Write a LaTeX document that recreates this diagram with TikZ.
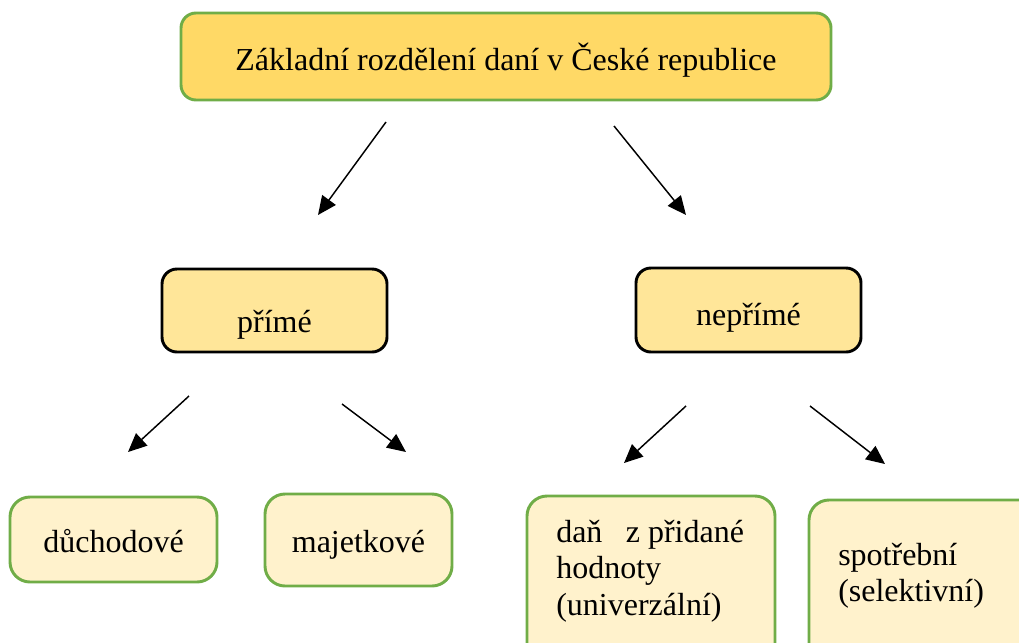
\documentclass[tikz,border=0pt]{standalone}
\usepackage{fontspec}
\setmainfont{Liberation Serif}
\usetikzlibrary{arrows.meta}
\definecolor{topfill}{HTML}{FFD966}
\definecolor{midfill}{HTML}{FFE699}
\definecolor{lowfill}{HTML}{FFF2CC}
\definecolor{grn}{HTML}{70AD47}
\def\pxu{0.75pt}
\tikzset{
  box/.style={draw, rounded corners=15*\pxu, line width=2.2pt, inner sep=0pt,
    text depth=0pt, font=\fontsize{24}{26}\selectfont},
  topbox/.style={box, draw=grn, fill=topfill},
  midbox/.style={box, draw=black, fill=midfill},
  lowbox/.style={box, draw=grn, fill=lowfill, rounded corners=20*\pxu},
  txt/.style={inner sep=0pt, anchor=base west},
  arr/.style={line width=1.1pt, -{Triangle[length=14pt, width=12.5pt]}}
}
\begin{document}
\begin{tikzpicture}[x=0.75pt, y=-0.75pt]
\useasboundingbox (0,0) rectangle (1019,642);
\clip (0,0) rectangle (1019,642);
\fill[white] (0,0) rectangle (1019,642);

\node[topbox, minimum width=650*\pxu, minimum height=87*\pxu, text height=20.25pt] (top) at (506,56.5) {Základní rozdělení daní v České republice};
\node[midbox, minimum width=225*\pxu, minimum height=83*\pxu, text height=32.25pt] (prime) at (274.5,310.5) {přímé};
\node[midbox, minimum width=225*\pxu, minimum height=84*\pxu, text height=22.5pt] (neprime) at (748.5,310) {nepřímé};
\node[lowbox, minimum width=207*\pxu, minimum height=85*\pxu, text height=18.75pt] (duch) at (113.5,539.5) {důchodové};
\node[lowbox, minimum width=187*\pxu, minimum height=92*\pxu, text height=18pt] (maj) at (358.5,540) {majetkové};
\node[lowbox, minimum width=248*\pxu, minimum height=170*\pxu] (dph) at (651,581) {};
\node[txt] (dphtext) at (556,542) {\fontsize{24}{27.4}\selectfont\vtop{\hbox{daň\hspace*{17.5pt}z přidané}\hbox{hodnoty}\hbox{(univerzální)}}};
\node[lowbox, minimum width=240*\pxu, minimum height=170*\pxu] (spd) at (929,585) {};
\node[txt] (spdtext) at (838,565) {\fontsize{24}{27.6}\selectfont\vtop{\hbox{spotřební}\hbox{(selektivní)}}};

\coordinate (a1s) at (386,122); \coordinate (a1e) at (318,215);
\coordinate (a2s) at (614,126); \coordinate (a2e) at (686,215);
\coordinate (a3s) at (189,396); \coordinate (a3e) at (128,452);
\coordinate (a4s) at (342,404); \coordinate (a4e) at (406,452);
\coordinate (a5s) at (686,406); \coordinate (a5e) at (624,463);
\coordinate (a6s) at (810,406); \coordinate (a6e) at (885,464);
\draw[arr] (a1s) -- (a1e);
\draw[arr] (a2s) -- (a2e);
\draw[arr] (a3s) -- (a3e);
\draw[arr] (a4s) -- (a4e);
\draw[arr] (a5s) -- (a5e);
\draw[arr] (a6s) -- (a6e);
\end{tikzpicture}
\end{document}
